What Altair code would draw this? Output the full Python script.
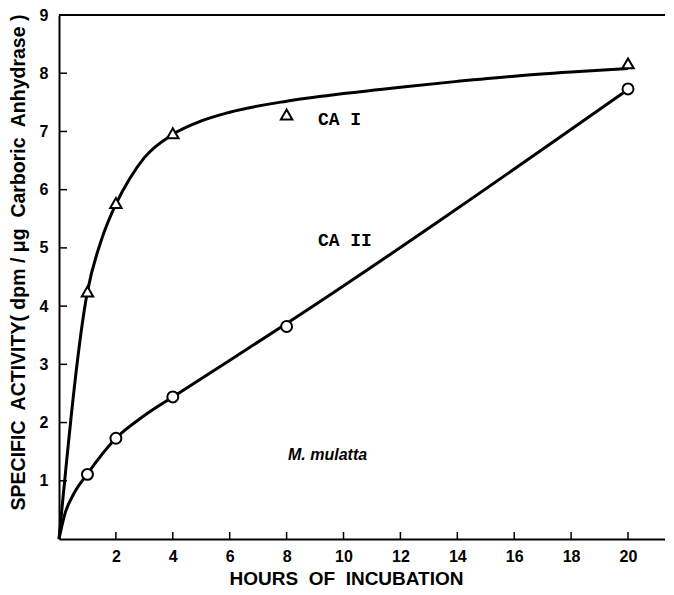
import altair as alt
import pandas as pd

# Fitted curves
ca1_curve_x = [0, 1, 1.5, 2, 2.5, 3, 4, 5, 6, 8, 10, 12, 14, 16, 18, 20]
ca1_curve_y = [0, 4.25, 5.15, 5.75, 6.2, 6.55, 6.95, 7.18, 7.33, 7.52, 7.65, 7.76, 7.86, 7.95, 8.02, 8.08]
ca2_curve_x = [0, 0.2, 0.5, 1, 2, 3, 4, 8, 20]
ca2_curve_y = [0, 0.42, 0.76, 1.12, 1.73, 2.12, 2.44, 3.7, 7.72]

# Measured points
hours = [1, 2, 4, 8, 20]
ca1_points = [4.25, 5.77, 6.97, 7.29, 8.17]
ca2_points = [1.11, 1.73, 2.44, 3.65, 7.73]

# Annotations
label_text = ["CA I", "CA II"]
label_x = [9.1, 9.1]
label_y = [7.19, 5.12]
species_text = ["M. mulatta"]
species_x = [8.05]
species_y = [1.44]

x_ticks = [2, 4, 6, 8, 10, 12, 14, 16, 18, 20]
y_ticks = [1, 2, 3, 4, 5, 6, 7, 8, 9]

W, H = 606, 524
FONT = "Liberation Sans"

curves = pd.concat([
    pd.DataFrame({"h": ca1_curve_x, "v": ca1_curve_y, "s": "CA I"}),
    pd.DataFrame({"h": ca2_curve_x, "v": ca2_curve_y, "s": "CA II"}),
])
pts1 = pd.DataFrame({"h": hours, "v": ca1_points})
pts2 = pd.DataFrame({"h": hours, "v": ca2_points})
labels = pd.DataFrame({"t": label_text, "h": label_x, "v": label_y})
species = pd.DataFrame({"t": species_text, "h": species_x, "v": species_y})
xt = pd.DataFrame({"h": x_ticks})
yt = pd.DataFrame({"v": y_ticks[:-1]})

xscale = alt.Scale(domain=[0, 21.3], nice=False, zero=False)
yscale = alt.Scale(domain=[0, 9], nice=False)

xaxis = alt.Axis(values=x_ticks, ticks=False, grid=False, domainColor="black", domainWidth=2,
                 format="d",
                 labelFont=FONT, labelFontSize=16, labelFontWeight="bold", labelColor="black",
                 labelPadding=9, title="HOURS\u00a0 OF\u00a0 INCUBATION", titleFont=FONT, titleFontSize=19,
                 titleFontWeight="bold", titleColor="black", titleX=287, titleY=39,
                 titleBaseline="middle", titleAlign="center")
yaxis = alt.Axis(values=y_ticks, ticks=False, grid=False, domainColor="black", domainWidth=2,
                 format="d",
                 labelFont=FONT, labelFontSize=16, labelFontWeight="bold", labelColor="black",
                 labelPadding=11,
                 title="SPECIFIC\u00a0 ACTIVITY( dpm / \u03bcg\u00a0 Carboric\u00a0 Anhydrase )", titleFont=FONT,
                 titleFontSize=19.5, titleFontWeight="bold", titleColor="black", titleX=-41,
                 titleY=247, titleAngle=270, titleBaseline="middle", titleAlign="center")

lines = alt.Chart(curves).mark_line(color="black", strokeWidth=3, interpolate="monotone").encode(
    x=alt.X("h:Q", scale=xscale, axis=xaxis),
    y=alt.Y("v:Q", scale=yscale, axis=yaxis),
    detail="s:N",
)
tri = alt.Chart(pts1).mark_point(shape="triangle-up", size=130, filled=True, fill="white",
                                 stroke="black", strokeWidth=2, opacity=1).encode(x="h:Q", y="v:Q")
circ = alt.Chart(pts2).mark_point(shape="circle", size=120, filled=True, fill="white",
                                  stroke="black", strokeWidth=2, opacity=1).encode(x="h:Q", y="v:Q")
txt = alt.Chart(labels).mark_text(font="Liberation Mono", fontSize=18, fontWeight="bold",
                                  align="left", baseline="middle", color="black").encode(
    x="h:Q", y="v:Q", text="t:N")
sp = alt.Chart(species).mark_text(font=FONT, fontSize=16, fontStyle="italic", fontWeight="bold",
                                  align="left", baseline="middle", color="black").encode(
    x="h:Q", y="v:Q", text="t:N")
xtick = alt.Chart(xt).mark_rule(color="black", strokeWidth=1.5).encode(
    x="h:Q", y=alt.value(H), y2=alt.value(H - 7))
ytick = alt.Chart(yt).mark_rule(color="black", strokeWidth=1.5).encode(
    y="v:Q", x=alt.value(0), x2=alt.value(8))
top = alt.Chart(pd.DataFrame({"v": [9]})).mark_rule(color="black", strokeWidth=2).encode(
    y="v:Q", x=alt.value(0), x2=alt.value(614))

chart = alt.layer(lines, tri, circ, txt, sp, xtick, ytick, top).properties(
    width=W, height=H,
    autosize=alt.AutoSizeParams(type="none"),
    padding={"left": 51, "top": 7, "right": 0, "bottom": 50},
).configure_view(stroke=None).configure(background="white")

chart.save("out.html", embed_options={"renderer": "svg", "actions": False})
